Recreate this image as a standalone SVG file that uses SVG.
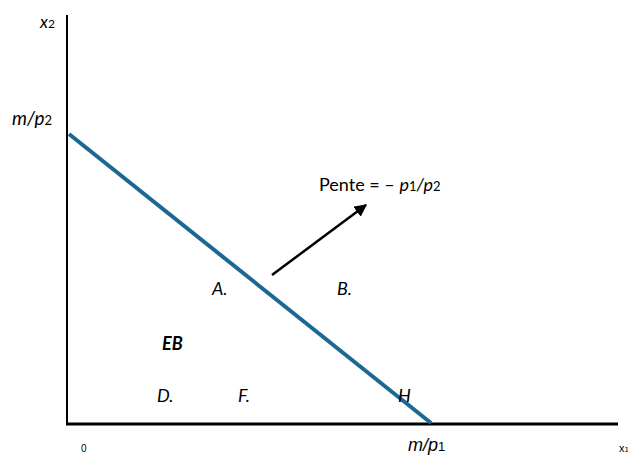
<svg xmlns="http://www.w3.org/2000/svg" width="628" height="456" viewBox="0 0 628 456">
<defs>
<style>
.c{font-family:Lato,"Open Sans","Liberation Sans",sans-serif;fill:#000}
.it{font-style:italic}
.a{font-family:"Liberation Sans",Arial,sans-serif;fill:#000}
.ax{stroke:#000;fill:none}
</style>
<marker id="ah" viewBox="0 0 10 10" refX="9" refY="5" markerWidth="5" markerHeight="5" orient="auto" markerUnits="strokeWidth">
<path d="M0,0 L10,5 L0,10 z" fill="#000"/>
</marker>
</defs>
<rect width="628" height="456" fill="#fff"/>
<g id="axes">
<line class="ax" x1="67" y1="15" x2="67" y2="425" stroke-width="2"/>
<line class="ax" x1="66" y1="424" x2="618" y2="424" stroke-width="3"/>
</g>
<g id="connectors">
<line x1="69" y1="134" x2="431" y2="423" stroke="#1b6893" stroke-width="4"/>
<line x1="272" y1="275" x2="366" y2="205" stroke="#000" stroke-width="2.5" marker-end="url(#ah)"/>
</g>
<g id="label-x2"><text class="c it" x="40" y="28" font-size="17">x<tspan font-size="12" font-style="normal">2</tspan></text></g>
<g id="label-mp2"><text class="c it" x="12" y="125" font-size="19">m/p<tspan font-size="13" font-style="normal">2</tspan></text></g>
<g id="label-pente"><text class="c" x="319" y="191" font-size="18">Pente = – <tspan font-style="italic">p</tspan><tspan font-size="13">1</tspan><tspan font-style="italic">/p</tspan><tspan font-size="13">2</tspan></text></g>
<g id="node-A"><text class="c it" x="212" y="295" font-size="18">A.</text></g>
<g id="node-B"><text class="c it" x="337" y="295" font-size="18">B.</text></g>
<g id="node-EB"><text class="c it" x="162" y="350" font-size="18" font-weight="bold">EB</text></g>
<g id="node-D"><text class="c it" x="157" y="402" font-size="18">D.</text></g>
<g id="node-F"><text class="c it" x="238" y="402" font-size="18">F.</text></g>
<g id="node-H"><text class="c it" x="398" y="402" font-size="18">H</text></g>
<g id="label-0"><text class="a" x="81" y="452" font-size="10">0</text></g>
<g id="label-mp1"><text class="a it" x="408" y="451" font-size="18">m/p<tspan font-size="13" font-style="normal">1</tspan></text></g>
<g id="label-x1"><text class="a" x="619" y="452" font-size="11">x<tspan font-size="8">1</tspan></text></g>
</svg>
